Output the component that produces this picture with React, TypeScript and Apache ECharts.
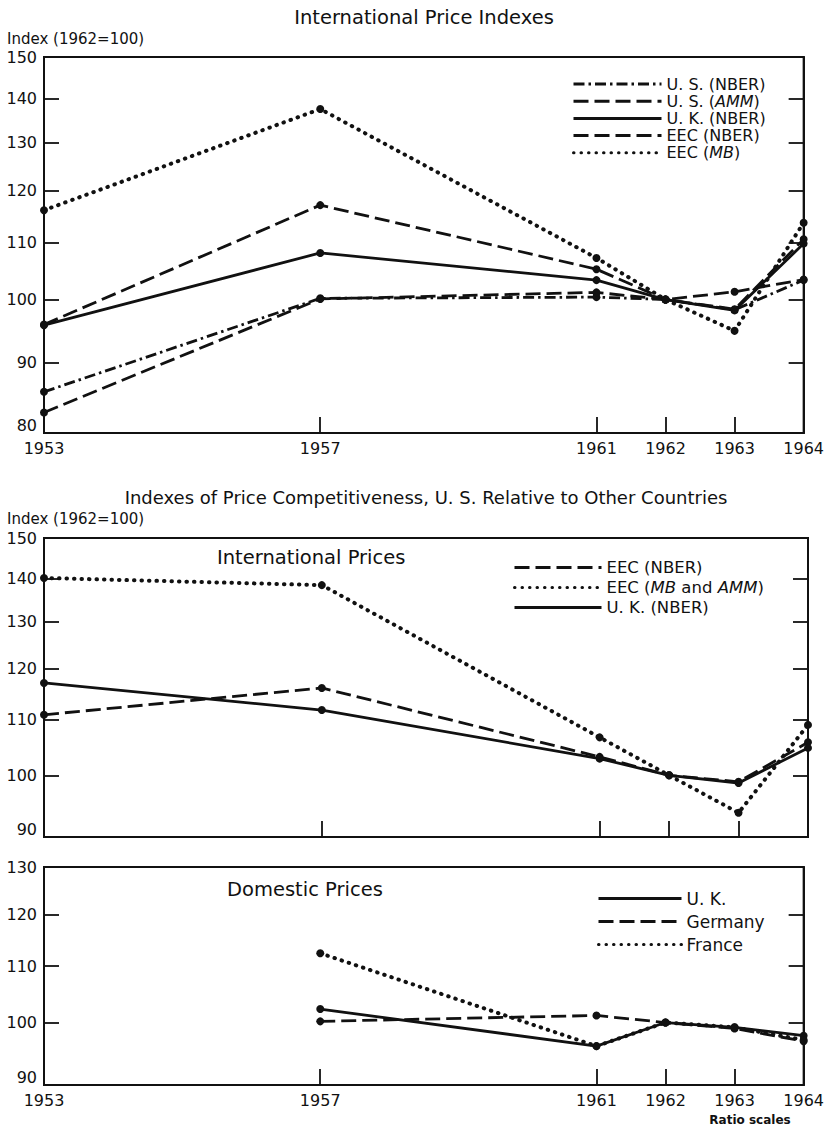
import React, { useEffect, useRef } from "react";
import * as echarts from "echarts";

// ---------- data ----------
const years = [1953, 1957, 1961, 1962, 1963, 1964];
const yearsDomestic = [1957, 1961, 1962, 1963, 1964];
const innerYearTicks = [1957, 1961, 1962, 1963];

// Panel 1: International Price Indexes
const usNber = [85.7, 100.2, 100.4, 100, 98.3, 103.3];
const usAmm = [82.8, 100.1, 101.2, 100, 101.3, 103.4];
const ukNber1 = [95.8, 108.1, 103.3, 100, 98.2, 109.8];
const eecNber1 = [95.9, 117.1, 105.2, 100, 98.4, 110.6];
const eecMb1 = [116.1, 137.5, 107.2, 100, 94.9, 113.7];

// Panel 2: International prices, price competitiveness
const eecNber2 = [110.9, 116.1, 103.2, 100, 98.9, 105.8];
const eecMbAmm2 = [140.1, 138.4, 106.7, 100, 93.8, 109.0];
const ukNber2 = [117.1, 111.8, 102.9, 100, 98.7, 104.8];

// Panel 3: Domestic prices
const ukDom = [102.3, 96.1, 100, 99.2, 97.8];
const germanyDom = [100.2, 101.2, 100, 99.0, 96.9];
const franceDom = [112.4, 96.1, 100, 99.2, 97.1];

// tick labels
const p1Labels = [80, 90, 100, 110, 120, 130, 140, 150];
const p1Ticks = [90, 100, 110, 120, 130, 140];
const p2Labels = [90, 100, 110, 120, 130, 140, 150];
const p2Ticks = [100, 110, 120, 130, 140];
const p3Labels = [90, 100, 110, 120, 130];
const p3Ticks = [100, 110, 120];

// ---------- styling ----------
const FONT = "DejaVu Sans";
const INK = "#111";

const STYLES: Record<string, any> = {
  solid: { type: "solid" },
  dashed: { type: [15, 6] },
  dotted: { type: [0.5, 7], cap: "round", width: 4 },
  dashDot: { type: [11, 4, 2.5, 4] },
};

function mkSeries(name: string, xs: number[], vals: number[], style: string, xIdx: number, yIdx: number) {
  return {
    type: "line",
    name,
    xAxisIndex: xIdx,
    yAxisIndex: yIdx,
    data: xs.map((x, i) => [x, vals[i]]),
    symbol: "circle",
    symbolSize: 8,
    showAllSymbol: true,
    itemStyle: { color: INK },
    lineStyle: { color: INK, width: 2.8, ...STYLES[style] },
    emphasis: { disabled: true },
    silent: true,
  };
}

function xAx(gridIndex: number, showLabels: boolean) {
  return {
    type: "value",
    gridIndex,
    min: 1953,
    max: 1964,
    axisLine: { show: true, lineStyle: { color: INK, width: 2 } },
    axisTick: {
      show: true,
      inside: true,
      length: 16,
      customValues: innerYearTicks,
      lineStyle: { color: INK, width: 1.8 },
    },
    axisLabel: {
      show: showLabels,
      customValues: years,
      formatter: (v: number) => String(v),
      color: INK,
      fontSize: 16,
      fontFamily: FONT,
      margin: 7,
    },
    splitLine: { show: false },
  };
}

function yAx(gridIndex: number, min: number, max: number, labels: number[], ticks: number[], right: boolean) {
  return {
    type: "log",
    logBase: 10,
    gridIndex,
    min,
    max,
    position: right ? "right" : "left",
    axisLine: { show: true, lineStyle: { color: INK, width: 2 } },
    axisTick: {
      show: true,
      inside: true,
      length: 15,
      customValues: ticks,
      lineStyle: { color: INK, width: 1.8 },
    },
    axisLabel: {
      show: !right,
      customValues: labels,
      formatter: (v: number) => String(Math.round(v)),
      color: INK,
      fontSize: 16,
      fontFamily: FONT,
      margin: 7,
      verticalAlignMinLabel: "bottom",
    },
    splitLine: { show: false },
  };
}

const italicFmt = (name: string) => name.trim().replace(/(AMM|MB)/g, "{i|$1}");

function mkLegend(left: number, top: number, width: number, gap: number, size: number, data: string[]) {
  return {
    orient: "vertical",
    left,
    top,
    padding: 0,
    itemWidth: width,
    itemHeight: 14,
    itemGap: gap,
    selectedMode: false,
    data,
    formatter: italicFmt,
    itemStyle: { opacity: 0 },
    lineStyle: { width: 3 },
    textStyle: {
      color: INK,
      fontSize: size,
      fontFamily: FONT,
      rich: { i: { fontStyle: "italic", fontSize: size, fontFamily: FONT, color: INK } },
    },
  };
}

function txt(text: string, x: number, y: number, size: number, align: string, weight = "normal") {
  return {
    type: "text",
    x,
    y,
    silent: true,
    style: {
      text,
      fill: INK,
      font: `${weight} ${size}px "${FONT}"`,
      textAlign: align,
      textVerticalAlign: "middle",
    },
  };
}

export default function App() {
  const ref = useRef<HTMLDivElement>(null);
  useEffect(() => {
    if (!ref.current) return;
    const chart = echarts.init(ref.current, null, { renderer: "svg" });
    const grids = [
      { left: 44, top: 57, width: 764, height: 376 },
      { left: 44, top: 538, width: 764, height: 299 },
      { left: 44, top: 867, width: 764, height: 218 },
    ].map((g) => ({ ...g, show: true, borderColor: INK, borderWidth: 2, backgroundColor: "transparent" }));

    const option: any = {
      animation: false,
      backgroundColor: "#fff",
      grid: grids,
      xAxis: [xAx(0, true), xAx(1, false), xAx(2, true)],
      yAxis: [
        yAx(0, 80, 150, p1Labels, p1Ticks, false),
        yAx(0, 80, 150, p1Labels, p1Ticks, true),
        yAx(1, 90, 150, p2Labels, p2Ticks, false),
        yAx(1, 90, 150, p2Labels, p2Ticks, true),
        yAx(2, 90, 130, p3Labels, p3Ticks, false),
        yAx(2, 90, 130, p3Labels, p3Ticks, true),
      ],
      legend: [
        mkLegend(572, 76, 88, 1.2, 16, ["U. S. (NBER)", "U. S. (AMM)", "U. K. (NBER)", "EEC (NBER)", "EEC (MB)"]),
        mkLegend(513, 559, 87, 3, 16.5, ["EEC (NBER) ", "EEC (MB and AMM)", "U. K. (NBER) "]),
        mkLegend(597, 890, 83, 6, 17, ["U. K.", "Germany", "France"]),
      ],
      series: [
        mkSeries("U. S. (NBER)", years, usNber, "dashDot", 0, 0),
        mkSeries("U. S. (AMM)", years, usAmm, "dashed", 0, 0),
        mkSeries("U. K. (NBER)", years, ukNber1, "solid", 0, 0),
        mkSeries("EEC (NBER)", years, eecNber1, "dashed", 0, 0),
        mkSeries("EEC (MB)", years, eecMb1, "dotted", 0, 0),
        mkSeries("EEC (NBER) ", years, eecNber2, "dashed", 1, 2),
        mkSeries("EEC (MB and AMM)", years, eecMbAmm2, "dotted", 1, 2),
        mkSeries("U. K. (NBER) ", years, ukNber2, "solid", 1, 2),
        mkSeries("U. K.", yearsDomestic, ukDom, "solid", 2, 4),
        mkSeries("Germany", yearsDomestic, germanyDom, "dashed", 2, 4),
        mkSeries("France", yearsDomestic, franceDom, "dotted", 2, 4),
      ],
      graphic: [
        txt("International Price Indexes", 424, 17, 19.5, "center"),
        txt("Index (1962=100)", 7, 39, 15, "left"),
        txt("Indexes of Price Competitiveness, U. S. Relative to Other Countries", 426, 497, 18, "center"),
        txt("Index (1962=100)", 7, 519, 15, "left"),
        txt("International Prices", 217, 557, 19.5, "left"),
        txt("Domestic Prices", 227, 889, 19.5, "left"),
        txt("Ratio scales", 750, 1120, 12, "center", "bold"),
      ],
    };
    chart.setOption(option);
    return () => chart.dispose();
  }, []);
  return (
    <div
      ref={ref}
      style={{ position: "absolute", left: 0, top: 0, width: 827, height: 1129, background: "#fff" }}
    />
  );
}
